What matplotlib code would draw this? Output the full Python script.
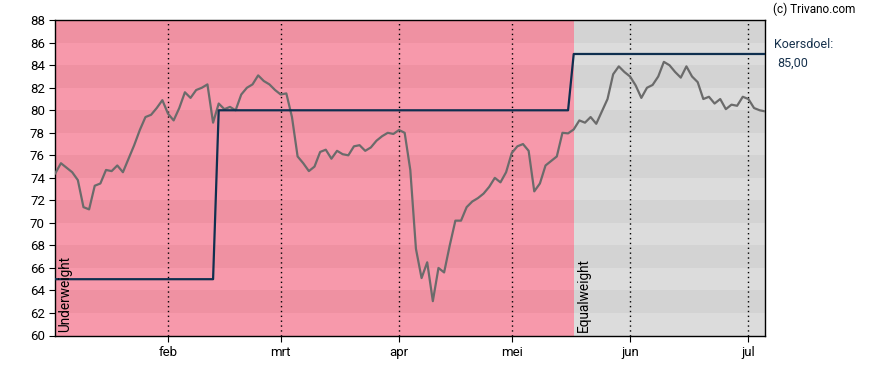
import numpy as np
import matplotlib
matplotlib.use('Agg')
import matplotlib.pyplot as plt

plt.rcParams['font.family'] = ['Roboto', 'DejaVu Sans']

# koers per handelsdag (index 0 = begin jan)
price = [74.4, 75.3, 74.9, 74.5, 73.8, 71.4, 71.2, 73.3, 73.5, 74.7,
         74.6, 75.1, 74.5, 75.7, 76.9, 78.25, 79.4, 79.6, 80.2, 80.9,
         79.7, 79.1, 80.2, 81.6, 81.1, 81.8, 82.0, 82.3, 78.9, 80.6,
         80.1, 80.3, 80.0, 81.4, 82.0, 82.3, 83.1, 82.6, 82.3, 81.8,
         81.4, 81.5, 79.4, 75.9, 75.3, 74.6, 75.0, 76.3, 76.5, 75.7,
         76.4, 76.1, 76.0, 76.8, 76.9, 76.4, 76.7, 77.3, 77.7, 78.0,
         77.9, 78.25, 78.0, 74.7, 67.7, 65.1, 66.5, 63.05, 66.0, 65.6,
         68.0, 70.2, 70.2, 71.4, 71.9, 72.2, 72.6, 73.2, 74.0, 73.6,
         74.5, 76.2, 76.8, 77.0, 76.4, 72.8, 73.5, 75.1, 75.5, 75.9,
         78.0, 77.95, 78.3, 79.1, 78.9, 79.4, 78.8, 79.9, 81.0, 83.2,
         83.9, 83.4, 83.0, 82.2, 81.1, 82.0, 82.25, 83.0, 84.3, 84.0,
         83.4, 82.9, 83.9, 83.0, 82.5, 81.0, 81.2, 80.6, 81.0, 80.1,
         80.5, 80.4, 81.2, 81.0, 80.2, 80.0, 79.9]

# koersdoel: (eerste dag, waarde)
target_steps = [(0, 65.0), (29, 80.0), (92, 85.0)]
# advies: (eerste dag, label)
ratings = [(0, 'Underweight'), (92, 'Equalweight')]

month_labels = ['feb', 'mrt', 'apr', 'mei', 'jun', 'jul']
month_days = [20, 40, 61, 81, 102, 123]

n = len(price)
x = np.arange(n)
target = np.zeros(n)
for start, val in target_steps:
    target[start:] = val

fig = plt.figure(figsize=(8.88, 3.70), dpi=100)
ax = fig.add_axes([55.3 / 888, 34.5 / 370, 710 / 888, 315.3 / 370])

ymin, ymax = 60, 88
xmax = n - 1
colors = {'Underweight': ('#f799ab', '#ef91a2'),
          'Equalweight': ('#dcdcdc', '#d3d3d3')}
for k, (start, label) in enumerate(ratings):
    end = ratings[k + 1][0] if k + 1 < len(ratings) else xmax
    light, dark = colors[label]
    for y0 in range(ymin, ymax, 2):
        c = dark if (y0 // 2) % 2 == 1 else light
        ax.fill_between([start, end], y0, y0 + 2, color=c, lw=0, zorder=0)
    ax.text(start + 0.5, ymin + 0.3, label, rotation=90, ha='left',
            va='bottom', fontsize=9.8, color='black', zorder=5)

for d in month_days:
    ax.axvline(d, color='black', ls=(0, (1, 2.5)), lw=1, zorder=1)

ax.plot(x, price, color='#6b6b6b', lw=1.6, zorder=3)
ax.plot(x, target, color='#0f2f4f', lw=1.6, zorder=4)

ax.set_xlim(0, xmax)
ax.set_ylim(ymin, ymax)
ax.set_yticks(range(ymin, ymax + 1, 2))
ax.set_xticks(month_days)
ax.set_xticklabels(month_labels)
ax.tick_params(labelsize=9.5, length=4, colors='black')
for s in ax.spines.values():
    s.set_color('black')
    s.set_linewidth(1)

target_txt = ('%.2f' % target[-1]).replace('.', ',')
fig.text(773 / 888, 1 - 9 / 370, '(c) Trivano.com', fontsize=8.5,
         ha='left', va='center', color='black')
fig.text(774 / 888, 1 - 45 / 370, 'Koersdoel:', fontsize=9,
         ha='left', va='center', color='#17324d')
fig.text(777 / 888, 1 - 63 / 370, target_txt, fontsize=9,
         ha='left', va='center', color='#17324d')

fig.savefig('out.png', dpi=100)
